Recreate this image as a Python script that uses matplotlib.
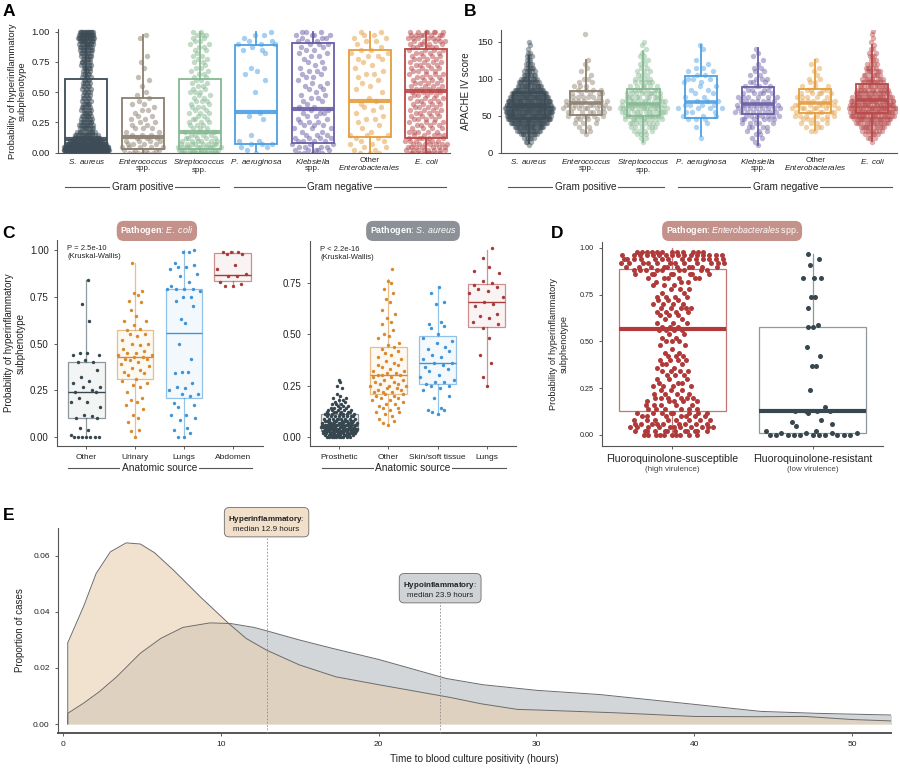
import numpy as np
import matplotlib
matplotlib.use("Agg")
import matplotlib.pyplot as plt
import matplotlib.colors as mcolors
import matplotlib.transforms as mtrans

plt.rcParams['font.family'] = ['Liberation Sans', 'DejaVu Sans']
plt.rcParams['mathtext.fontset'] = 'custom'
plt.rcParams['mathtext.rm'] = 'Liberation Sans'
plt.rcParams['mathtext.it'] = 'Liberation Sans:italic'
plt.rcParams['mathtext.bf'] = 'Liberation Sans:bold'

# ---------------- DATA ----------------
pathogen_labels = [r"$\it{S.\ aureus}$", r"$\it{Enterococcus}$" "\nspp.",
                   r"$\it{Streptococcus}$" "\nspp.", r"$\it{P.\ aeruginosa}$",
                   r"$\it{Klebsiella}$" "\nspp.", "Other\n" r"$\it{Enterobacterales}$",
                   r"$\it{E.\ coli}$"]
pathogen_colors = ['#3d4c56', '#8b7f6e', '#86b991', '#4c9fe3', '#6a5ea6', '#e49d3f', '#b9494a']

# Panel A: counts of patients per probability bin (0, 0.025, ..., 1.0)
a_bins = np.round(np.arange(41) * 0.025, 3)
a_counts_saureus = [110, 100, 75, 45, 30, 20, 14, 11, 9, 8, 7, 6, 6, 5, 5, 5, 5, 4, 4, 4, 4,
                    4, 4, 4, 4, 4, 4, 4, 5, 5, 5, 5, 6, 6, 7, 8, 9, 11, 14, 16, 14]
a_counts_entero = [6, 5, 5, 4, 4, 3, 3, 2, 3, 2, 2, 2, 2, 1, 2, 1, 2, 1, 1, 1, 1,
                   0, 1, 0, 1, 1, 0, 0, 1, 0, 1, 0, 1, 0, 0, 0, 0, 0, 1, 1, 0]
a_counts_strep = [15, 12, 10, 8, 6, 5, 4, 4, 3, 3, 3, 3, 2, 3, 2, 3, 2, 3, 2, 2, 3,
                  2, 2, 2, 2, 2, 2, 2, 2, 1, 2, 2, 2, 1, 2, 2, 2, 2, 2, 3, 2]
a_counts_paer = [1, 1, 2, 3, 2, 0, 1, 0, 0, 0, 0, 1, 1, 1, 0, 0, 0, 0, 0, 0, 1,
                 0, 0, 0, 1, 0, 1, 1, 1, 0, 0, 0, 0, 1, 2, 1, 3, 2, 1, 2, 1]
a_counts_kleb = [4, 5, 4, 3, 4, 4, 3, 2, 3, 3, 3, 2, 2, 3, 2, 2, 1, 2, 2, 2, 1,
                 2, 2, 2, 1, 2, 2, 2, 2, 1, 2, 1, 2, 2, 2, 2, 3, 3, 3, 4, 3]
a_counts_other = [3, 2, 2, 2, 2, 2, 3, 1, 1, 1, 1, 2, 1, 1, 1, 2, 1, 1, 1, 0, 1,
                  1, 1, 1, 1, 1, 2, 1, 1, 1, 1, 2, 2, 2, 2, 1, 1, 2, 2, 2, 2]
a_counts_ecoli = [9, 8, 7, 7, 6, 5, 5, 5, 4, 4, 4, 4, 4, 4, 4, 4, 4, 4, 4, 4, 4,
                  4, 4, 4, 4, 4, 4, 4, 4, 4, 4, 4, 4, 4, 4, 5, 5, 5, 6, 7, 7]
# box stats: q1, median, q3, lower whisker, upper whisker
a_q1 = [0.01, 0.03, 0.03, 0.07, 0.08, 0.13, 0.12]
a_med = [0.11, 0.13, 0.17, 0.34, 0.36, 0.43, 0.51]
a_q3 = [0.61, 0.45, 0.61, 0.89, 0.91, 0.85, 0.86]
a_wlo = [0.0, 0.0, 0.0, 0.01, 0.0, 0.0, 0.0]
a_whi = [1.0, 0.97, 1.0, 1.0, 1.0, 1.0, 1.0]

# Panel B: APACHE IV score counts per bin (0, 5, ..., 170)
b_bins = np.arange(35) * 5
b_counts_saureus = [0, 0, 1, 3, 6, 10, 16, 24, 32, 38, 42, 44, 44, 42, 38, 34, 28, 23,
                    18, 14, 11, 8, 6, 5, 4, 3, 3, 2, 1, 1, 1, 0, 0, 0, 0]
b_counts_entero = [0, 0, 0, 0, 0, 1, 2, 2, 3, 4, 6, 7, 8, 8, 7, 6, 5, 4,
                   3, 2, 2, 1, 1, 1, 1, 1, 0, 0, 0, 0, 0, 0, 1, 0, 0]
b_counts_strep = [0, 0, 0, 1, 2, 3, 4, 6, 8, 10, 12, 13, 14, 13, 12, 10, 9, 7,
                  6, 5, 4, 3, 3, 2, 2, 2, 2, 1, 1, 1, 1, 0, 0, 0, 0]
b_counts_paer = [0, 0, 0, 0, 1, 0, 0, 1, 1, 3, 3, 3, 4, 4, 3, 2, 2, 2,
                 2, 2, 3, 2, 2, 2, 1, 1, 0, 0, 1, 1, 0, 0, 0, 0, 0]
b_counts_kleb = [0, 0, 1, 1, 2, 2, 3, 4, 5, 6, 7, 8, 8, 8, 7, 6, 5, 4,
                 4, 3, 3, 2, 2, 2, 1, 1, 1, 1, 1, 0, 0, 0, 0, 0, 0]
b_counts_other = [0, 0, 0, 0, 0, 0, 2, 3, 4, 5, 6, 7, 7, 7, 6, 5, 5, 4,
                  3, 2, 2, 1, 1, 1, 1, 1, 0, 0, 0, 0, 0, 0, 0, 0, 0]
b_counts_ecoli = [0, 0, 0, 1, 3, 5, 8, 11, 15, 19, 22, 24, 25, 24, 22, 19, 16, 14,
                  12, 10, 8, 7, 6, 5, 4, 3, 3, 2, 2, 1, 1, 1, 1, 1, 0]
b_q1 = [46, 51, 50, 47, 52, 53, 54]
b_med = [64, 67, 66, 68, 66, 67, 71]
b_q3 = [80, 84, 86, 103, 89, 86, 93]
b_wlo = [13, 26, 15, 22, 10, 31, 16]
b_whi = [130, 125, 137, 145, 141, 125, 145]

# Panel C (left): E. coli by anatomic source
c1_sources = ["Other", "Urinary", "Lungs", "Abdomen"]
c1_colors = ['#37474f', '#d9892e', '#3f94d8', '#a83a3a']
c1_other = [0.84, 0.71, 0.62, 0.45, 0.44, 0.44, 0.45, 0.41, 0.40, 0.40, 0.36, 0.32, 0.29,
            0.27, 0.27, 0.30, 0.25, 0.24, 0.24, 0.21, 0.19, 0.19, 0.16, 0.12, 0.11, 0.10,
            0.10, 0.05, 0.04, 0.0, 0.0, 0.0, 0.0, 0.0, 0.0, 0.0, 0.01]
c1_urinary = [0.93, 0.78, 0.77, 0.76, 0.73, 0.72, 0.68, 0.65, 0.62, 0.62, 0.60, 0.58, 0.57,
              0.55, 0.55, 0.54, 0.52, 0.50, 0.50, 0.49, 0.47, 0.46, 0.45, 0.45, 0.44, 0.44,
              0.43, 0.43, 0.42, 0.42, 0.41, 0.40, 0.39, 0.38, 0.37, 0.36, 0.35, 0.34, 0.33,
              0.31, 0.30, 0.29, 0.28, 0.27, 0.24, 0.21, 0.20, 0.19, 0.17, 0.15, 0.12, 0.10,
              0.08, 0.04, 0.03, 0.0]
c1_lungs = [1.0, 0.99, 0.99, 0.93, 0.92, 0.91, 0.91, 0.90, 0.87, 0.86, 0.83, 0.81, 0.79,
            0.79, 0.79, 0.79, 0.78, 0.75, 0.75, 0.73, 0.70, 0.63, 0.61, 0.50, 0.42, 0.35,
            0.34, 0.35, 0.29, 0.27, 0.26, 0.25, 0.23, 0.23, 0.22, 0.18, 0.17, 0.16, 0.12,
            0.12, 0.10, 0.09, 0.04, 0.05, 0.02, 0.0, 0.0]
c1_abdomen = [0.99, 0.99, 0.99, 0.98, 0.98, 0.92, 0.90, 0.87, 0.86, 0.86, 0.83, 0.82,
              0.81, 0.81]
c1_q1 = [0.10, 0.31, 0.21, 0.835]
c1_med = [0.24, 0.43, 0.555, 0.868]
c1_q3 = [0.40, 0.57, 0.79, 0.982]
c1_wlo = [0.0, 0.0, 0.0, 0.81]
c1_whi = [0.84, 0.93, 1.0, 0.995]

# Panel C (right): S. aureus by anatomic source
c2_sources = ["Prosthetic", "Other", "Skin/soft tissue", "Lungs"]
c2_colors = ['#37474f', '#d9892e', '#3f94d8', '#a83a3a']
c2_prosthetic_bins = np.round(np.arange(29) * 0.01, 2)
c2_prosthetic_counts = [10, 12, 13, 14, 14, 13, 12, 11, 10, 9, 8, 7, 6, 5, 4, 3, 3, 2, 2, 2,
                        1, 1, 0, 0, 1, 1, 0, 1, 1]
c2_other = [0.82, 0.76, 0.75, 0.72, 0.70, 0.67, 0.66, 0.62, 0.60, 0.58, 0.56, 0.55, 0.52,
            0.50, 0.49, 0.48, 0.46, 0.45, 0.44, 0.43, 0.42, 0.41, 0.40, 0.39, 0.38, 0.37,
            0.36, 0.35, 0.35, 0.34, 0.33, 0.32, 0.32, 0.31, 0.31, 0.30, 0.30, 0.30, 0.29,
            0.29, 0.28, 0.28, 0.27, 0.27, 0.26, 0.26, 0.25, 0.25, 0.25, 0.24, 0.24, 0.23,
            0.23, 0.22, 0.22, 0.22, 0.21, 0.21, 0.20, 0.20, 0.19, 0.19, 0.18, 0.18, 0.17,
            0.16, 0.16, 0.15, 0.14, 0.14, 0.13, 0.12, 0.12, 0.11, 0.10, 0.09, 0.08, 0.07, 0.06]
c2_skin = [0.73, 0.70, 0.66, 0.65, 0.56, 0.55, 0.54, 0.53, 0.50, 0.48, 0.47, 0.46, 0.44,
           0.43, 0.42, 0.40, 0.39, 0.38, 0.36, 0.36, 0.35, 0.34, 0.33, 0.32, 0.30, 0.29,
           0.28, 0.27, 0.27, 0.26, 0.25, 0.25, 0.24, 0.23, 0.20, 0.19, 0.14, 0.13, 0.13,
           0.12, 0.11]
c2_lungs = [0.92, 0.87, 0.83, 0.81, 0.80, 0.76, 0.75, 0.74, 0.73, 0.72, 0.71, 0.70, 0.68,
            0.66, 0.65, 0.64, 0.60, 0.59, 0.58, 0.56, 0.55, 0.53, 0.48, 0.40, 0.36, 0.29, 0.25]
c2_q1 = [0.03, 0.21, 0.26, 0.535]
c2_med = [0.06, 0.30, 0.36, 0.66]
c2_q3 = [0.11, 0.44, 0.49, 0.745]
c2_wlo = [0.0, 0.06, 0.11, 0.25]
c2_whi = [0.20, 0.77, 0.73, 0.91]

# Panel D: Enterobacterales by fluoroquinolone susceptibility
d_groups = ["Fluoroquinolone-susceptible", "Fluoroquinolone-resistant"]
d_sub = ["(high virulence)", "(low virulence)"]
d_colors = ['#b03a3a', '#37474f']
d_sus_bins = np.round(np.arange(51) * 0.02, 2)
d_sus_counts = [10, 12, 11, 9, 8, 7, 8, 6, 5, 5, 6, 4, 3, 4, 3, 3, 3, 4, 2, 3, 4, 3, 2, 1, 2,
                3, 2, 2, 4, 3, 3, 2, 3, 4, 5, 4, 3, 4, 2, 3, 3, 3, 6, 8, 9, 10, 12, 14, 16, 12, 0]
d_res = [0.97, 0.94, 0.91, 0.84, 0.84, 0.84, 0.74, 0.74, 0.68, 0.59, 0.58, 0.58, 0.47, 0.42,
         0.37, 0.37, 0.24, 0.15, 0.13, 0.13, 0.13, 0.13, 0.12, 0.08, 0.07, 0.06, 0.05, 0.02,
         0.02, 0.01, 0.01, 0.01, 0.01, 0.0, 0.0, 0.0, 0.0, 0.0, 0.0, 0.0, 0.0, 0.0, 0.0, 0.0]
d_q1 = [0.128, 0.01]
d_med = [0.565, 0.13]
d_q3 = [0.885, 0.58]
d_wlo = [0.0, 0.0]
d_whi = [1.0, 0.97]

# Panel E: density of time to blood culture positivity
e_hyper_x = [0.3, 1.3, 2.1, 3.0, 4.0, 4.9, 5.8, 7.0, 8.7, 10.5, 11.6, 12.9, 15.0, 17.3, 20.0,
             22.0, 24.5, 26.5, 28.8, 30.0, 35.0, 40.0, 44.0, 47.0, 50.0, 52.5]
e_hyper_y = [0.0289, 0.0418, 0.0536, 0.0613, 0.0645, 0.0641, 0.0610, 0.0548, 0.0453, 0.0358,
             0.0305, 0.0263, 0.0210, 0.0168, 0.0140, 0.0120, 0.0095, 0.0072, 0.0052, 0.0050,
             0.0040, 0.0027, 0.0026, 0.0027, 0.0016, 0.0011]
e_hypo_x = [0.3, 1.3, 2.3, 3.4, 4.9, 6.2, 7.6, 9.3, 10.6, 12.1, 12.9, 15.0, 17.1, 20.0, 24.3,
            26.6, 30.0, 34.0, 40.0, 44.2, 47.8, 52.5]
e_hypo_y = [0.0038, 0.0074, 0.0115, 0.0168, 0.0252, 0.0305, 0.0344, 0.0360, 0.0358, 0.0344,
            0.0332, 0.0299, 0.0269, 0.0230, 0.0162, 0.0140, 0.0120, 0.0105, 0.0070, 0.0045,
            0.0038, 0.0032]
e_medians = [12.9, 23.9]
e_names = ["Hyperinflammatory", "Hypoinflammatory"]
e_fill = ['#e9cfb0', '#b5bcc0']
e_label_fc = ['#f1dfca', '#cfd3d6']
e_label_y = [0.0715, 0.048]

# ---------------- HELPERS ----------------
W, H = 900, 772
fig = plt.figure(figsize=(W / 100, H / 100), dpi=100)


def px_axes(l, t, r, b):
    return fig.add_axes([l / W, 1 - b / H, (r - l) / W, (b - t) / H])


def vdc(n):
    v, d = 0.0, 1.0
    while n:
        d *= 2
        n, r = divmod(n, 2)
        v += r / d
    return v


def quasi_offsets(vals, width, bw, power):
    v = np.asarray(vals, float)
    d = np.exp(-0.5 * ((v[:, None] - v[None, :]) / bw) ** 2).sum(axis=1)
    d = (d / d.max()) ** power
    order = np.argsort(v, kind="stable")
    off = np.zeros_like(v)
    for rank, idx in enumerate(order):
        off[idx] = (2 * vdc(rank + 1) - 1) * width * d[idx]
    return off


def draw_box(ax, pos, s, color, width, lw, mlw, edge_alpha=1.0, med_color=None,
             face='none', z=3, med_alpha=1.0):
    st = [dict(q1=s[0], med=s[1], q3=s[2], whislo=s[3], whishi=s[4], fliers=[])]
    art = ax.bxp(st, positions=[pos], widths=width, showcaps=False, showfliers=False,
                 patch_artist=True, manage_ticks=False, zorder=z)
    ec = mcolors.to_rgba(color, edge_alpha)
    for b in art['boxes']:
        b.set_facecolor(face)
        b.set_edgecolor(ec)
        b.set_linewidth(lw)
    for w in art['whiskers']:
        w.set_color(ec)
        w.set_linewidth(lw)
    for m in art['medians']:
        m.set_color(mcolors.to_rgba(med_color or color, med_alpha))
        m.set_linewidth(mlw)
        m.set_solid_capstyle('butt')


def style_axes(ax, spine_color='#555555', lw=0.8):
    for sp in ['top', 'right']:
        ax.spines[sp].set_visible(False)
    for sp in ['left', 'bottom']:
        ax.spines[sp].set_color(spine_color)
        ax.spines[sp].set_linewidth(lw)
    ax.tick_params(colors='#444444', labelcolor='#222222', length=2.5, width=0.6)


def bracket(ax, x0, x1, xc, yfrac, text, fs):
    tr = mtrans.blended_transform_factory(ax.transData, ax.transAxes)
    ax.plot([x0, x1], [yfrac, yfrac], color='#555555', lw=0.8, transform=tr, clip_on=False)
    ax.text(xc, yfrac, text, transform=tr, ha='center', va='center', fontsize=fs,
            color='#222222', bbox=dict(fc='white', ec='none', pad=1.2))


def panel_label(x, y, s):
    fig.text(x / W, 1 - y / H, s, fontsize=12.5, fontweight='bold', ha='left', va='center')


def pill(ax, x, y, s, fc):
    ax.text(x, y, s, transform=ax.transAxes, ha='center', va='center', fontsize=6.4,
            color='white', bbox=dict(boxstyle='round,pad=0.4,rounding_size=0.8', fc=fc,
                                     ec='none'), clip_on=False)


# ---------------- PANEL A ----------------
axA = px_axes(58, 29, 450, 153)
a_counts = [a_counts_saureus, a_counts_entero, a_counts_strep, a_counts_paer,
            a_counts_kleb, a_counts_other, a_counts_ecoli]
for i, cnt in enumerate(a_counts):
    vals = np.repeat(a_bins, cnt)
    off = quasi_offsets(vals, 0.40, 0.05, 0.6)
    axA.scatter(i + off, vals, s=15, color=pathogen_colors[i], alpha=0.5, lw=0, zorder=2)
    draw_box(axA, i, (a_q1[i], a_med[i], a_q3[i], a_wlo[i], a_whi[i]), pathogen_colors[i],
             0.74, 1.3, 3.0, z=3, med_alpha=0.9)
axA.set_xlim(-0.5, 6.42)
axA.set_ylim(-0.0025, 1.022)
axA.set_yticks([0, 0.25, 0.5, 0.75, 1.0])
axA.set_yticklabels(["0.00", "0.25", "0.50", "0.75", "1.00"])
axA.set_xticks(range(7))
axA.set_xticklabels(pathogen_labels, fontsize=5.8, linespacing=0.85)
style_axes(axA)
axA.tick_params(axis='x', length=0, pad=3)
axA.tick_params(axis='y', labelsize=6.8)
axA.set_ylabel("Probability of hyperinflammatory\nsubphenotype", fontsize=6.8, labelpad=3,
               color='#222222')
bracket(axA, -0.37, 2.35, 0.99, -0.275, "Gram positive", 7.2)
bracket(axA, 2.61, 6.35, 4.48, -0.275, "Gram negative", 7.2)

# ---------------- PANEL B ----------------
axB = px_axes(501, 30, 897, 153)
b_counts = [b_counts_saureus, b_counts_entero, b_counts_strep, b_counts_paer,
            b_counts_kleb, b_counts_other, b_counts_ecoli]
for i, cnt in enumerate(b_counts):
    vals = np.repeat(b_bins, cnt)
    off = quasi_offsets(vals, 0.42, 8.0, 0.8)
    axB.scatter(i + off, vals, s=15, color=pathogen_colors[i], alpha=0.45, lw=0, zorder=2)
    draw_box(axB, i, (b_q1[i], b_med[i], b_q3[i], b_wlo[i], b_whi[i]), pathogen_colors[i],
             0.56, 1.3, 2.6, z=3, med_alpha=0.9)
axB.set_xlim(-0.49, 6.43)
axB.set_ylim(-0.4, 165.8)
axB.set_yticks([0, 50, 100, 150])
axB.set_xticks(range(7))
axB.set_xticklabels(pathogen_labels, fontsize=5.8, linespacing=0.85)
style_axes(axB)
axB.tick_params(axis='x', length=0, pad=3)
axB.tick_params(axis='y', labelsize=6.8)
axB.set_ylabel("APACHE IV score", fontsize=7, labelpad=4, color='#222222')
bracket(axB, -0.37, 2.35, 0.99, -0.275, "Gram positive", 7.2)
bracket(axB, 2.61, 6.35, 4.48, -0.275, "Gram negative", 7.2)

# ---------------- PANEL C left ----------------
axC1 = px_axes(57, 240, 263, 446)
c1_vals = [c1_other, c1_urinary, c1_lungs, c1_abdomen]
for i, v in enumerate(c1_vals):
    v = np.asarray(v, float)
    draw_box(axC1, i, (c1_q1[i], c1_med[i], c1_q3[i], c1_wlo[i], c1_whi[i]), c1_colors[i],
             0.75, 0.9, 1.0, edge_alpha=0.55, face=mcolors.to_rgba(c1_colors[i], 0.06), z=2)
    off = quasi_offsets(v, 0.36, 0.07, 0.6)
    axC1.scatter(i + off, v, s=6, color=c1_colors[i], lw=0, zorder=3)
axC1.set_xlim(-0.6, 3.62)
axC1.set_ylim(-0.048, 1.054)
axC1.set_yticks([0, 0.25, 0.5, 0.75, 1.0])
axC1.set_yticklabels(["0.00", "0.25", "0.50", "0.75", "1.00"])
axC1.set_xticks(range(4))
axC1.set_xticklabels(c1_sources, fontsize=6)
style_axes(axC1)
axC1.tick_params(axis='y', labelsize=7)
axC1.set_ylabel("Probability of hyperinflammatory\nsubphenotype", fontsize=7, labelpad=3,
                color='#222222')
axC1.text(0.05, 0.975, "P = 2.5e-10\n(Kruskal-Wallis)", transform=axC1.transAxes,
          fontsize=5.5, va='top', ha='left', color='#222222', linespacing=1.1)
bracket(axC1, -0.37, 3.39, 1.5, -0.107, "Anatomic source", 7.3)
pill(axC1, 0.485, 1.044, r"$\bf{Pathogen}$" ": " r"$\it{E.\ coli}$", '#c4928a')

# ---------------- PANEL C right ----------------
axC2 = px_axes(310, 241, 516, 446)
c2_vals = [np.repeat(c2_prosthetic_bins, c2_prosthetic_counts), c2_other, c2_skin, c2_lungs]
for i, v in enumerate(c2_vals):
    v = np.asarray(v, float)
    draw_box(axC2, i, (c2_q1[i], c2_med[i], c2_q3[i], c2_wlo[i], c2_whi[i]), c2_colors[i],
             0.75, 0.9, 1.0, edge_alpha=0.55, face=mcolors.to_rgba(c2_colors[i], 0.06), z=2)
    off = quasi_offsets(v, 0.38, 0.04 if i == 0 else 0.07, 0.6)
    axC2.scatter(i + off, v, s=6, color=c2_colors[i], lw=0, zorder=3)
axC2.set_xlim(-0.6, 3.6)
axC2.set_ylim(-0.044, 0.955)
axC2.set_yticks([0, 0.25, 0.5, 0.75])
axC2.set_yticklabels(["0.00", "0.25", "0.50", "0.75"])
axC2.set_xticks(range(4))
axC2.set_xticklabels(c2_sources, fontsize=6)
style_axes(axC2)
axC2.tick_params(axis='y', labelsize=7)
axC2.text(0.05, 0.975, "P < 2.2e-16\n(Kruskal-Wallis)", transform=axC2.transAxes,
          fontsize=5.5, va='top', ha='left', color='#222222', linespacing=1.1)
bracket(axC2, -0.35, 3.39, 1.5, -0.107, "Anatomic source", 7.3)
pill(axC2, 0.5, 1.049, r"$\bf{Pathogen}$" ": " r"$\it{S.\ aureus}$", '#8b9196')

# ---------------- PANEL D ----------------
axD = px_axes(602, 242, 883, 446)
d_vals = [np.repeat(d_sus_bins, d_sus_counts), np.asarray(d_res, float)]
d_box_edge = ['#c27674', '#8e989e']
for i, v in enumerate(d_vals):
    draw_box(axD, i, (d_q1[i], d_med[i], d_q3[i], d_wlo[i], d_whi[i]), d_box_edge[i],
             0.76, 0.9, 3.0, med_color=d_colors[i], z=2)
    off = quasi_offsets(v, 0.39 if i == 0 else 0.36, 0.04, 0.9)
    axD.scatter(i + off, v, s=13, color=d_colors[i], lw=0, zorder=3)
axD.set_xlim(-0.5, 1.5)
axD.set_ylim(-0.059, 1.032)
axD.set_yticks([0, 0.25, 0.5, 0.75, 1.0])
axD.set_yticklabels(["0.00", "0.25", "0.50", "0.75", "1.00"])
axD.set_xticks(range(2))
axD.set_xticklabels(d_groups, fontsize=7.6)
style_axes(axD)
axD.tick_params(axis='y', labelsize=5.2)
axD.tick_params(axis='x', pad=3)
trD = mtrans.blended_transform_factory(axD.transData, axD.transAxes)
for i, s in enumerate(d_sub):
    axD.text(i, -0.113, s, transform=trD, ha='center', va='center', fontsize=5.8,
             color='#444444')
axD.set_ylabel("Probability of hyperinflammatory\nsubphenotype", fontsize=6.6, labelpad=8,
               color='#222222')
pill(axD, 0.463, 1.054, r"$\bf{Pathogen}$" ": " r"$\it{Enterobacterales}$" " spp.", '#c4928a')

# ---------------- PANEL E ----------------
axE = px_axes(58, 528, 891, 733)
axE.fill_between(e_hypo_x, 0, e_hypo_y, color=e_fill[1], alpha=0.6, lw=0, zorder=2)
axE.fill_between(e_hyper_x, 0, e_hyper_y, color=e_fill[0], alpha=0.6, lw=0, zorder=3)
for xs, ys in [(e_hypo_x, e_hypo_y), (e_hyper_x, e_hyper_y)]:
    axE.plot(np.r_[xs[0], xs, xs[-1]], np.r_[0, ys, 0], color='#6b6b6b', lw=0.7, zorder=4)
for k in range(2):
    axE.plot([e_medians[k], e_medians[k]], [-0.0032, e_label_y[k] - 0.0043],
             color='#8a8a8a', lw=0.6, ls=(0, (2, 2)), zorder=5, clip_on=False)
    axE.text(e_medians[k], e_label_y[k],
             r"$\bf{" + e_names[k] + "}$" ":\nmedian %.1f hours" % e_medians[k],
             ha='center', va='center', fontsize=5.8, color='#222222', linespacing=1.25,
             bbox=dict(boxstyle='round,pad=0.5,rounding_size=0.6', fc=e_label_fc[k],
                       ec='#6b6b6b', lw=0.6), zorder=6, clip_on=False)
axE.set_xlim(-0.317, 52.47)
axE.set_ylim(-0.0032, 0.0698)
axE.set_xticks([0, 10, 20, 30, 40, 50])
axE.set_yticks([0, 0.02, 0.04, 0.06])
axE.set_yticklabels(["0.00", "0.02", "0.04", "0.06"])
style_axes(axE)
axE.spines['bottom'].set_linewidth(1.4)
axE.tick_params(labelsize=6)
axE.set_xlabel("Time to blood culture positivity (hours)", fontsize=7.2, labelpad=4,
               color='#222222')
axE.set_ylabel("Proportion of cases", fontsize=7, labelpad=6, color='#222222')

# ---------------- PANEL LABELS ----------------
panel_label(3, 12, "A")
panel_label(464, 12, "B")
panel_label(2, 233, "C")
panel_label(551, 233, "D")
panel_label(3, 516, "E")

fig.savefig("out.png", dpi=100, facecolor='white')
